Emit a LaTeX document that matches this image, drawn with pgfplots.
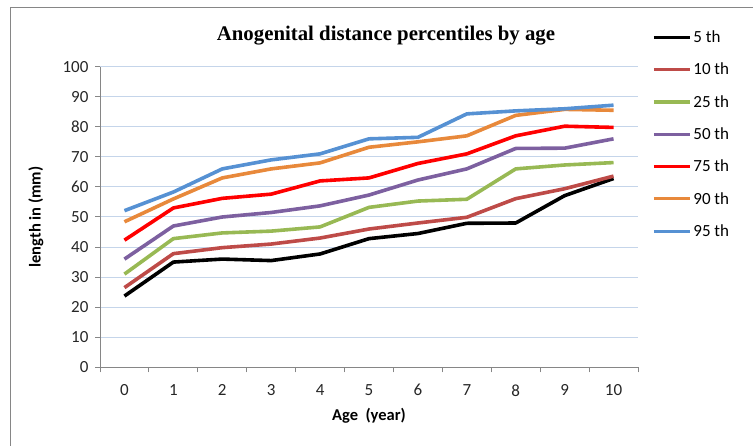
\documentclass[border=0pt]{standalone}
\usepackage{pgfplots}
\pgfplotsset{compat=1.18}
\usepackage{fontspec}
\setmainfont{Carlito}
\newfontfamily\titlefont{Liberation Serif}
\definecolor{c5}{HTML}{000000}
\definecolor{c10}{HTML}{BE4B48}
\definecolor{c25}{HTML}{98B954}
\definecolor{c50}{HTML}{7D60A0}
\definecolor{c75}{HTML}{FF0000}
\definecolor{c90}{HTML}{E8893B}
\definecolor{c95}{HTML}{5691D3}
\definecolor{gridc}{HTML}{C5D5EA}
\definecolor{axc}{HTML}{868686}
\begin{document}
\begin{tikzpicture}[x=1pt,y=1pt]
\useasboundingbox (0,0) rectangle (753,446);
\draw[axc,line width=1pt] (10,0) -- (10,438) -- (753,438);
\node[font=\titlefont\bfseries\fontsize{20.8}{24}\selectfont] at (386,410) {Anogenital distance percentiles by age};
\begin{axis}[
  at={(100pt,78.7pt)}, anchor=south west,
  scale only axis, width=538pt, height=300.6pt,
  xmin=-0.5, xmax=10.5, ymin=0, ymax=100,
  axis x line*=bottom, axis y line*=left,
  axis line style={axc, line width=1pt},
  xtick={0,...,10}, major x tick style={draw=none},
  minor xtick={-0.5,0.5,...,10.5},
  ytick={0,10,...,100},
  tick align=outside, tick style={axc, line width=1pt},
  major tick length=5pt, minor tick length=5pt,
  ymajorgrids, grid style={gridc, line width=1pt},
  ticklabel style={font=\fontsize{17}{19}\selectfont, text=black!85},
  /pgf/number format/assume math mode=true,
  xticklabel style={anchor=center, yshift=-18pt},
  yticklabel style={anchor=east, xshift=-3pt},
  xlabel={Age\ \ (year)}, ylabel={length in (mm)},
  label style={font=\bfseries\fontsize{16.5}{19}\selectfont},
  xlabel style={at={(axis description cs:0.5,-0.162)}, anchor=center},
  ylabel style={at={(axis description cs:-0.119,0.5)}, anchor=center},
  every axis plot/.append style={line width=3.6pt, line join=round},
  legend style={at={(axis description cs:1.026,1.127)}, anchor=north west, draw=none, fill=none,
    font=\fontsize{17}{19}\selectfont, row sep=15pt, inner sep=0pt},
  legend cell align=left,
  legend image code/.code={\draw[#1, line width=3.2pt] (0pt,0pt) -- (36pt,0pt);},
  clip=false,
]
\addplot[c5] coordinates {(0,23.7)(1,35)(2,36)(3,35.5)(4,37.7)(5,42.8)(6,44.5)(7,47.9)(8,48)(9,57.1)(10,62.8)};
\addplot[c10] coordinates {(0,26.5)(1,37.8)(2,39.8)(3,41)(4,43)(5,46)(6,48)(7,49.9)(8,56.1)(9,59.4)(10,63.6)};
\addplot[c25] coordinates {(0,31)(1,42.8)(2,44.7)(3,45.3)(4,46.7)(5,53.2)(6,55.3)(7,55.9)(8,66)(9,67.3)(10,68.1)};
\addplot[c50] coordinates {(0,36)(1,47)(2,50)(3,51.5)(4,53.7)(5,57.3)(6,62.3)(7,66)(8,72.8)(9,72.9)(10,76)};
\addplot[c75] coordinates {(0,42.3)(1,53)(2,56.2)(3,57.6)(4,62)(5,63)(6,67.8)(7,71)(8,77)(9,80.2)(10,79.8)};
\addplot[c90] coordinates {(0,48.4)(1,56)(2,63)(3,66)(4,68)(5,73.2)(6,75)(7,77)(8,83.8)(9,85.8)(10,85.5)};
\addplot[c95] coordinates {(0,52.1)(1,58.3)(2,66)(3,69)(4,71)(5,76)(6,76.5)(7,84.3)(8,85.3)(9,86)(10,87.2)};
\legend{5 th,10 th,25 th,50 th,75 th,90 th,95 th}
\end{axis}
\end{tikzpicture}
\end{document}
